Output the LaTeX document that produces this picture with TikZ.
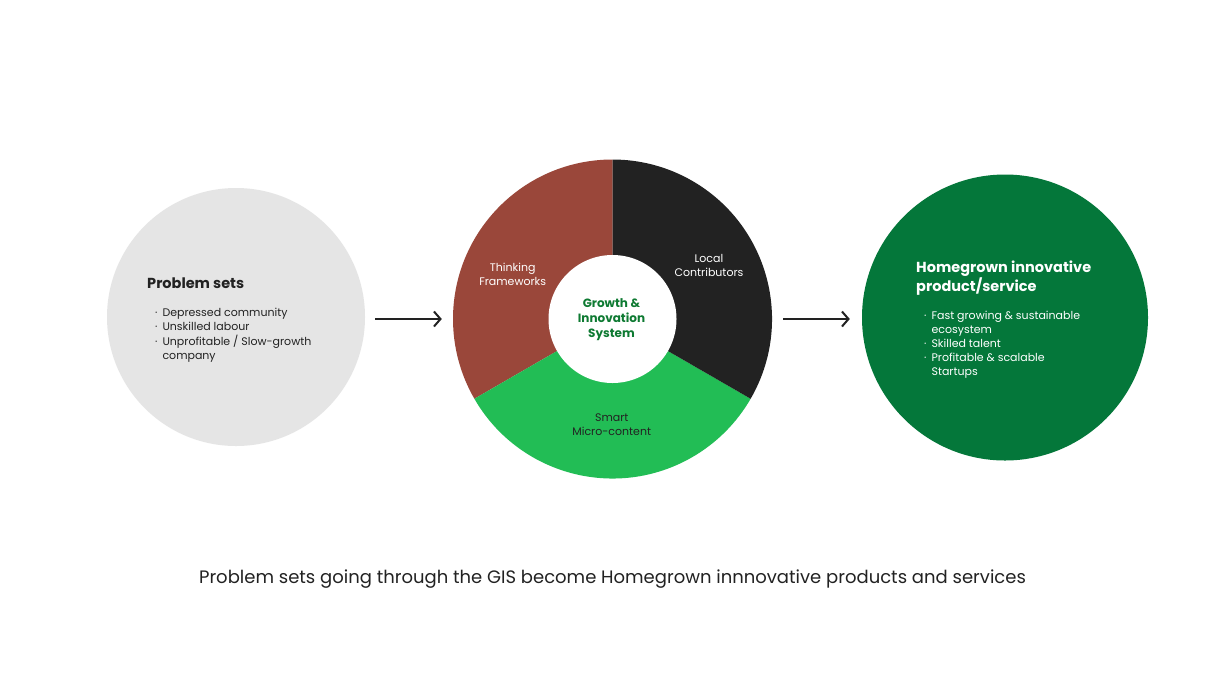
\documentclass[tikz,border=0pt]{standalone}
\usepackage{fontspec}
\setmainfont{Poppins}
\usetikzlibrary{arrows.meta,calc}
\definecolor{greybg}{HTML}{E5E5E5}
\definecolor{brownseg}{HTML}{9A473A}
\definecolor{blackseg}{HTML}{222222}
\definecolor{greenseg}{HTML}{22BD55}
\definecolor{darkgreen}{HTML}{04773A}
\definecolor{midgreen}{HTML}{0E7A32}
\definecolor{txt}{HTML}{222222}
\begin{document}
\begin{tikzpicture}[x=1pt,y=1pt,
  bigcircle/.style={circle,inner sep=0pt,draw=none},
  title/.style={anchor=base west,inner sep=0pt,align=left,font=\fontsize{14.5}{18.5}\selectfont\bfseries},
  bullets/.style={anchor=base west,inner sep=0pt,font=\fontsize{11}{14}\selectfont},
  seglabel/.style={anchor=base,inner sep=0pt,align=center,font=\fontsize{11}{13.7}\selectfont},
  flowarrow/.style={line width=2pt,-{Straight Barb[length=6.5pt,width=15pt,line width=2pt]}}]
\useasboundingbox (0,0) rectangle (1225,-689);
\fill[white] (0,0) rectangle (1225,-689);

% left circle
\node[bigcircle,fill=greybg,minimum size=258pt] (prob) at (236,-317) {};
\node[title,text=txt] (probtitle) at (147,-288) {Problem sets};
\node[bullets,text=txt] (problist) at (155,-316.7) {\begin{tabular}[t]{@{}l@{\hspace{5pt}}l@{}}
·&Depressed community\\
·&Unskilled labour\\
·&Unprofitable / Slow-growth\\
&company
\end{tabular}};

% donut
\coordinate (dc) at (612.5,-319);
\node[bigcircle,minimum size=319pt] (donut) at (dc) {};
\fill[brownseg] (dc) -- ++(90:159.5) arc[start angle=90,end angle=210,radius=159.5] -- cycle;
\fill[greenseg] (dc) -- ++(210:159.5) arc[start angle=210,end angle=330,radius=159.5] -- cycle;
\fill[blackseg] (dc) -- ++(330:159.5) arc[start angle=330,end angle=450,radius=159.5] -- cycle;
\node[bigcircle,fill=white,minimum size=128pt] (gis) at (dc) {};

\node[seglabel,text=white] (think) at (512.7,-285) {Thinking\\Frameworks};
\node[seglabel,text=white] (local) at (709,-276) {Local\\Contributors};
\node[seglabel,text=blackseg] (smart) at (611.7,-435) {Smart\\Micro-content};
\node[anchor=base,inner sep=0pt,align=center,text=midgreen,font=\fontsize{12}{15}\selectfont\bfseries] (gistext) at (611.5,-337) {Growth \&\\Innovation\\System};

% right circle
\node[bigcircle,fill=darkgreen,minimum size=286pt] (home) at (1005,-317.5) {};
\node[title,text=white] (hometitle) at (916,-291) {Homegrown innovative\\product/service};
\node[bullets,text=white] (homelist) at (924,-319.3) {\begin{tabular}[t]{@{}l@{\hspace{5pt}}l@{}}
·&Fast growing \& sustainable\\
&ecosystem\\
·&Skilled talent\\
·&Profitable \& scalable\\
&Startups
\end{tabular}};

% arrows
\draw[flowarrow,color=txt] ([xshift=10pt]prob.east |- donut.west) -- ([xshift=-11pt]donut.west);
\draw[flowarrow,color=txt] ([xshift=11pt]donut.east) -- ([xshift=-12pt]home.west |- donut.east);

% caption
\node[anchor=base,inner sep=0pt,text=txt,font=\fontsize{18}{21}\selectfont] (caption) at (612.5,-583) {Problem sets going through the GIS become Homegrown innnovative products and services};
\end{tikzpicture}
\end{document}
